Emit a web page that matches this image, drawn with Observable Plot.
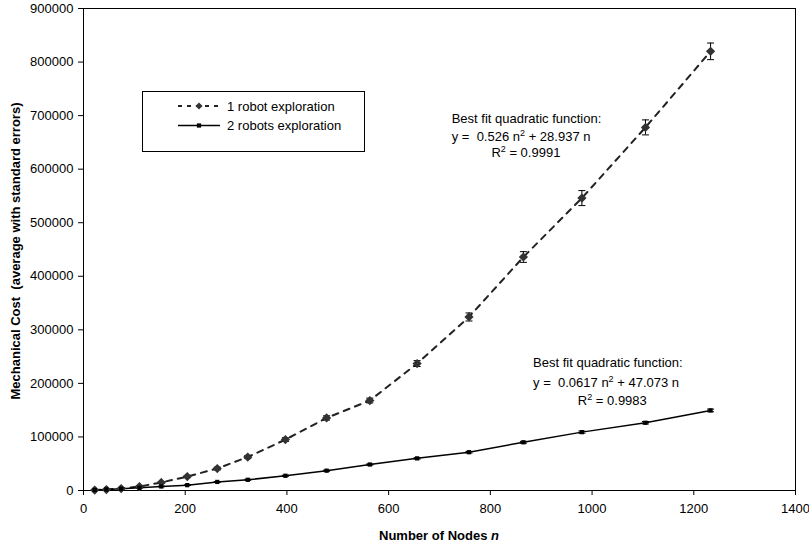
<!DOCTYPE html>
<html><head><meta charset="utf-8">
<script src="https://cdn.jsdelivr.net/npm/d3@7"></script>
<script src="https://cdn.jsdelivr.net/npm/@observablehq/plot@0.6"></script>
<style>
body{margin:0;background:#fff;}
#chart{width:809px;height:546px;}
</style></head><body><div id="chart"></div>
<script>
// ---- data ----
const nodes        = [22, 45, 74, 110, 153, 204, 263, 323, 397, 478, 563, 656, 758, 865, 980, 1105, 1233];
const oneRobot     = [800, 1800, 3700, 7400, 15000, 26000, 41000, 62500, 95000, 135500, 168000, 237000, 324000, 436000, 546000, 678000, 820000];
const oneRobotErr  = [300, 500, 700, 1000, 1500, 2000, 2500, 3000, 3500, 4000, 4500, 5500, 7500, 10000, 14000, 14000, 15500];
const twoRobots    = [900, 2000, 3200, 5000, 7500, 10000, 16000, 20000, 27500, 37000, 48500, 60000, 71500, 90000, 109000, 126500, 149500];
const twoRobotsErr = [200, 300, 400, 500, 600, 700, 800, 900, 1000, 1100, 1200, 1300, 1500, 1700, 2000, 2200, 2500];
const xTicks = [0, 200, 400, 600, 800, 1000, 1200, 1400];
const yTicks = [0, 100000, 200000, 300000, 400000, 500000, 600000, 700000, 800000, 900000];
const seriesNames = ["1 robot exploration", "2 robots exploration"];
// fit annotations: each part is [text, isSuperscript]
const fitNotes = [
  {n: 725, cost: 694500, parts: [["Best fit quadratic function:", false]]},
  {n: 725, cost: 661000, parts: [["y =  0.526 n", false], ["2", true], [" + 28.937 n", false]]},
  {n: 803, cost: 631000, parts: [["R", false], ["2", true], [" = 0.9991", false]]},
  {n: 885, cost: 239500, parts: [["Best fit quadratic function:", false]]},
  {n: 885, cost: 202200, parts: [["y =  0.0617 n", false], ["2", true], [" + 47.073 n", false]]},
  {n: 973, cost: 168000, parts: [["R", false], ["2", true], [" = 0.9983", false]]}
];

const one = nodes.map((n, i) => ({n, cost: oneRobot[i], err: oneRobotErr[i]}));
const two = nodes.map((n, i) => ({n, cost: twoRobots[i], err: twoRobotsErr[i]}));

const cap = {draw(ctx) { ctx.moveTo(-3.5, 0); ctx.lineTo(3.5, 0); }};
const font = "'Liberation Sans', Arial, sans-serif";

const errMarks = (data) => [
  Plot.ruleX(data, {x: "n", y1: d => d.cost - d.err, y2: d => d.cost + d.err, stroke: "#000", strokeWidth: 1}),
  Plot.dot(data, {x: "n", y: d => d.cost + d.err, symbol: cap, stroke: "#000", strokeWidth: 1, fill: "none"}),
  Plot.dot(data, {x: "n", y: d => d.cost - d.err, symbol: cap, stroke: "#000", strokeWidth: 1, fill: "none"})
];

const chart = Plot.plot({
  width: 809, height: 546,
  marginLeft: 83, marginRight: 14, marginTop: 8, marginBottom: 56,
  style: {fontFamily: font, fontSize: "13px", color: "#000", background: "#fff"},
  x: {domain: [0, 1400]},
  y: {domain: [0, 900000]},
  marks: [
    Plot.frame({stroke: "#000"}),
    Plot.axisY({ticks: yTicks, tickFormat: d => String(d), tickSize: 5, tickPadding: 5, label: null, fontSize: 13}),
    Plot.axisX({ticks: xTicks, tickFormat: d => String(d), tickSize: 5, tickPadding: 8, label: null, fontSize: 13}),
    Plot.line(one, {x: "n", y: "cost", stroke: "#222", strokeWidth: 2, strokeDasharray: "6,6"}),
    Plot.line(two, {x: "n", y: "cost", stroke: "#000", strokeWidth: 1.5}),
    ...errMarks(one),
    ...errMarks(two),
    Plot.dot(one, {x: "n", y: "cost", symbol: "diamond2", r: 3.2, fill: "#333", stroke: "#333"}),
    Plot.dot(two, {x: "n", y: "cost", symbol: "square", r: 2.4, fill: "#000", stroke: "none"})
  ]
});

const svg = d3.select(chart);
const sx = chart.scale("x"), sy = chart.scale("y");

// fit annotations with real superscripts, positioned through the plot's scales
const notes = svg.append("g").style("font-family", font).style("font-size", "13px").attr("text-anchor", "start");
fitNotes.forEach(d => {
  const t = notes.append("text").attr("x", sx.apply(d.n)).attr("y", sy.apply(d.cost)).attr("dy", "0.35em");
  d.parts.forEach(([s, sup]) => {
    if (sup) t.append("tspan").attr("dy", -5).style("font-size", "9px").text(s);
    else t.append("tspan").attr("dy", t.selectAll("tspan").size() ? 5 : 0).text(s);
  });
});

// axis titles
svg.append("text")
  .attr("x", 439).attr("y", 540).attr("text-anchor", "middle")
  .style("font-family", font).style("font-size", "13px").style("font-weight", "bold")
  .call(t => { t.append("tspan").text("Number of Nodes "); t.append("tspan").style("font-style", "italic").text("n"); });
svg.append("text")
  .attr("transform", "translate(20,251) rotate(-90)").attr("text-anchor", "middle")
  .style("font-family", font).style("font-size", "13px").style("font-weight", "bold")
  .text("Mechanical Cost  (average with standard errors)");

// legend
const lg = svg.append("g").style("font-family", font).style("font-size", "13px").attr("text-anchor", "start");
lg.append("rect").attr("x", 142.5).attr("y", 91.5).attr("width", 222).attr("height", 60)
  .attr("fill", "#fff").attr("stroke", "#000");
lg.append("line").attr("x1", 178).attr("x2", 220).attr("y1", 106).attr("y2", 106)
  .attr("stroke", "#222").attr("stroke-width", 2).attr("stroke-dasharray", "4,5");
lg.append("path").attr("d", d3.symbol(d3.symbolDiamond2, 3.2 * 3.2 * Math.PI)()).attr("transform", "translate(199,106)").attr("fill", "#333");
lg.append("line").attr("x1", 178).attr("x2", 220).attr("y1", 125.5).attr("y2", 125.5)
  .attr("stroke", "#000").attr("stroke-width", 1.5);
lg.append("path").attr("d", d3.symbol(d3.symbolSquare, 2.4 * 2.4 * Math.PI)()).attr("transform", "translate(199,125.5)").attr("fill", "#000");
seriesNames.forEach((s, i) => {
  lg.append("text").attr("x", 227).attr("y", 106 + i * 19.5).attr("dy", "0.35em").text(s);
});

document.getElementById("chart").appendChild(chart);
</script>
</body></html>
